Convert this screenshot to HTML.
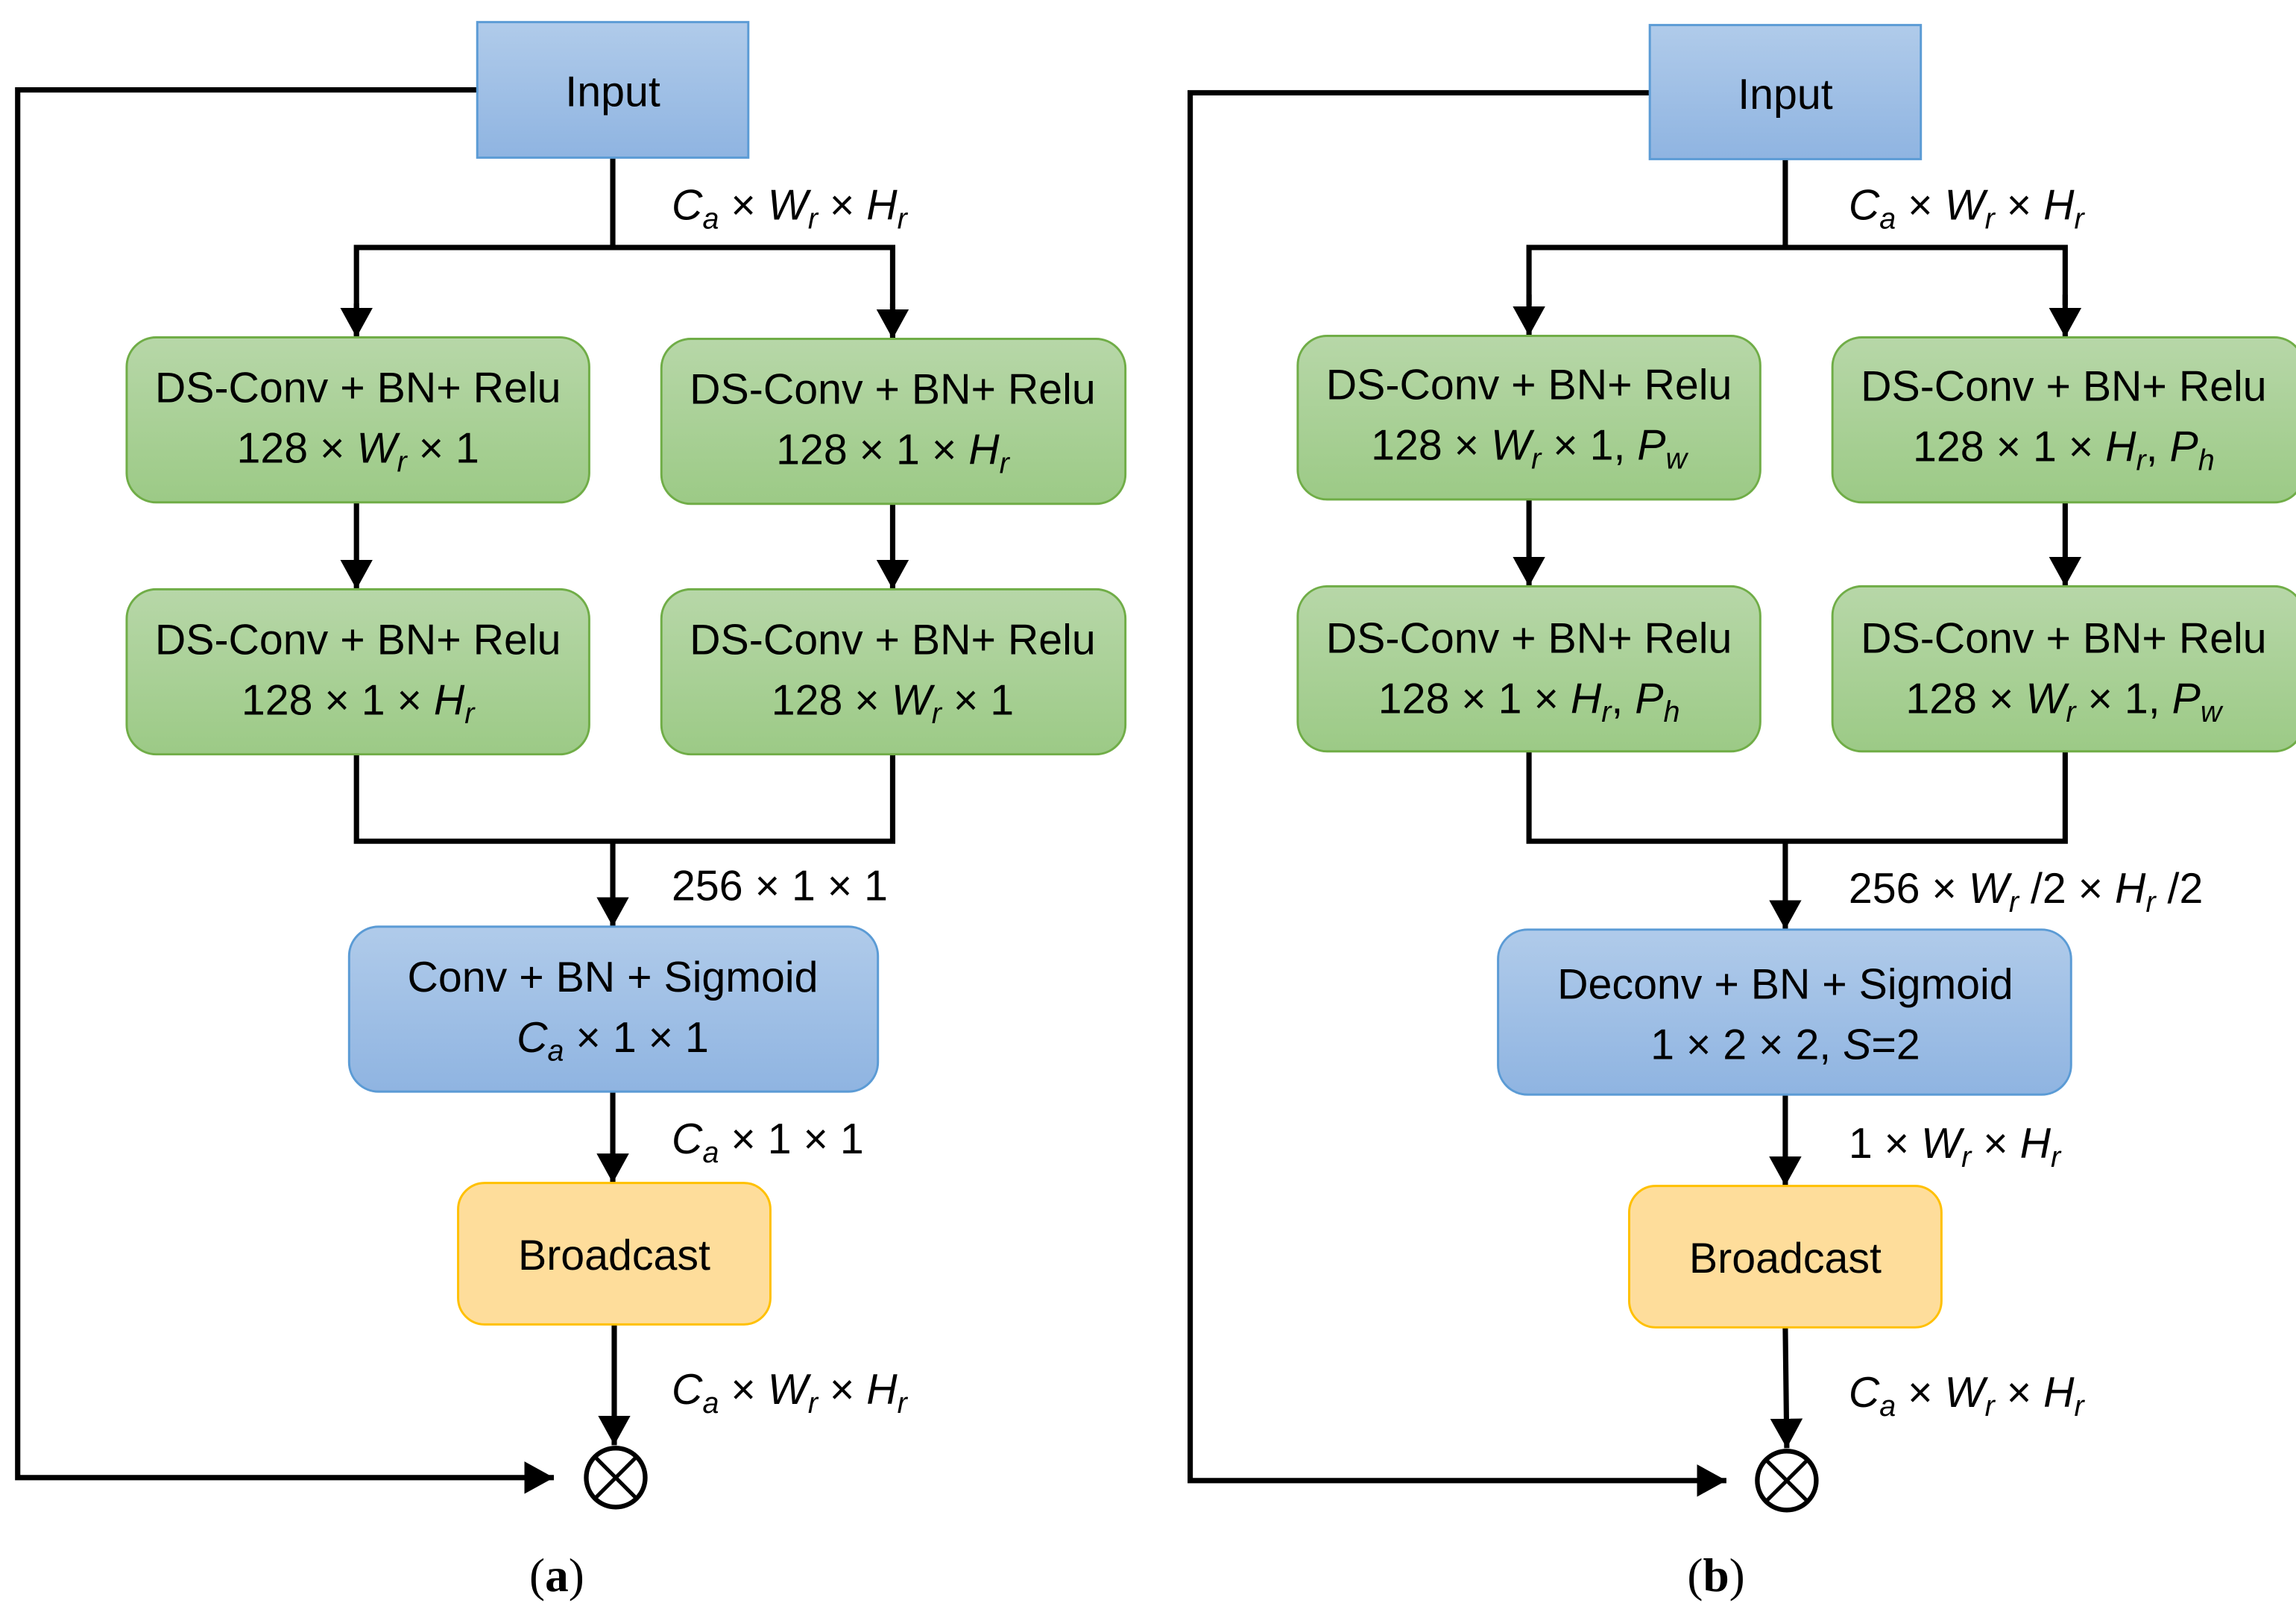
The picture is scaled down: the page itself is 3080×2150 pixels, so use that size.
<!DOCTYPE html>
<html><head><meta charset="utf-8"><style>
html,body{margin:0;padding:0;background:#fff;}
svg{display:block;}
text{font-family:"Liberation Sans Narrow","Liberation Sans",sans-serif;font-size:29px;fill:#000;}
.i{font-style:italic;}
.s{font-style:italic;font-size:20px;}
</style></head><body>
<svg width="3080" height="2150" viewBox="0 0 1558.7 1088.1" preserveAspectRatio="none" xmlns="http://www.w3.org/2000/svg">
<defs>
<linearGradient id="g" x1="0" y1="0" x2="0" y2="1"><stop offset="0" stop-color="#b7d7a8"/><stop offset="1" stop-color="#9cca86"/></linearGradient>
<linearGradient id="b" x1="0" y1="0" x2="0" y2="1"><stop offset="0" stop-color="#b0cbea"/><stop offset="1" stop-color="#8fb4e1"/></linearGradient>
<marker id="ar" viewBox="0 0 20 22" refX="20" refY="11" markerWidth="20" markerHeight="22" markerUnits="userSpaceOnUse" orient="auto"><path d="M0,0 L20,11 L0,22 z" fill="#000"/></marker>
</defs>
<g fill="none" stroke="#000" stroke-width="3.6">
<!-- (a) -->
<polyline points="324,61 12,61 12,1003 376,1003" marker-end="url(#ar)"/>
<line x1="416" y1="107" x2="416" y2="168"/>
<polyline points="242,228 242,168 606,168 606,228" />
<line x1="242" y1="206" x2="242" y2="229" marker-end="url(#ar)"/>
<line x1="606" y1="206" x2="606" y2="230" marker-end="url(#ar)"/>
<line x1="242" y1="341" x2="242" y2="400" marker-end="url(#ar)"/>
<line x1="606" y1="342" x2="606" y2="400" marker-end="url(#ar)"/>
<polyline points="242,512 242,571 606,571 606,512"/>
<line x1="416" y1="571" x2="416" y2="629" marker-end="url(#ar)"/>
<line x1="416" y1="741" x2="416" y2="803" marker-end="url(#ar)"/>
<line x1="417" y1="899" x2="417" y2="981" marker-end="url(#ar)"/>
<circle cx="418" cy="1003" r="20" stroke-width="3.2"/>
<line x1="404" y1="989" x2="432" y2="1017" stroke-width="2.6"/>
<line x1="432" y1="989" x2="404" y2="1017" stroke-width="2.6"/>
<!-- (b) -->
<polyline points="1120,63 808,63 808,1005 1172,1005" marker-end="url(#ar)"/>
<line x1="1212" y1="108" x2="1212" y2="168"/>
<polyline points="1038,207 1038,168 1402,168 1402,207"/>
<line x1="1038" y1="200" x2="1038" y2="228" marker-end="url(#ar)"/>
<line x1="1402" y1="200" x2="1402" y2="229" marker-end="url(#ar)"/>
<line x1="1038" y1="339" x2="1038" y2="398" marker-end="url(#ar)"/>
<line x1="1402" y1="341" x2="1402" y2="398" marker-end="url(#ar)"/>
<polyline points="1038,510 1038,571 1402,571 1402,510"/>
<line x1="1212" y1="571" x2="1212" y2="631" marker-end="url(#ar)"/>
<line x1="1212" y1="743" x2="1212" y2="805" marker-end="url(#ar)"/>
<line x1="1212" y1="901" x2="1213" y2="983" marker-end="url(#ar)"/>
<circle cx="1213" cy="1005" r="20" stroke-width="3.2"/>
<line x1="1199" y1="991" x2="1227" y2="1019" stroke-width="2.6"/>
<line x1="1227" y1="991" x2="1199" y2="1019" stroke-width="2.6"/>
</g>
<!-- boxes (a) -->
<rect x="324" y="15" width="184" height="92" fill="url(#b)" stroke="#5b9bd5" stroke-width="1.5"/>
<rect x="86" y="229" width="314" height="112" rx="20" fill="url(#g)" stroke="#70ad47" stroke-width="1.5"/>
<rect x="449" y="230" width="315" height="112" rx="20" fill="url(#g)" stroke="#70ad47" stroke-width="1.5"/>
<rect x="86" y="400" width="314" height="112" rx="20" fill="url(#g)" stroke="#70ad47" stroke-width="1.5"/>
<rect x="449" y="400" width="315" height="112" rx="20" fill="url(#g)" stroke="#70ad47" stroke-width="1.5"/>
<rect x="237" y="629" width="359" height="112" rx="20" fill="url(#b)" stroke="#5b9bd5" stroke-width="1.5"/>
<rect x="311" y="803" width="212" height="96" rx="18" fill="#fedd9b" stroke="#ffc000" stroke-width="1.5"/>
<!-- boxes (b) -->
<rect x="1120" y="17" width="184" height="91" fill="url(#b)" stroke="#5b9bd5" stroke-width="1.5"/>
<rect x="881" y="228" width="314" height="111" rx="20" fill="url(#g)" stroke="#70ad47" stroke-width="1.5"/>
<rect x="1244" y="229" width="320" height="112" rx="20" fill="url(#g)" stroke="#70ad47" stroke-width="1.5"/>
<rect x="881" y="398" width="314" height="112" rx="20" fill="url(#g)" stroke="#70ad47" stroke-width="1.5"/>
<rect x="1244" y="398" width="320" height="112" rx="20" fill="url(#g)" stroke="#70ad47" stroke-width="1.5"/>
<rect x="1017" y="631" width="389" height="112" rx="20" fill="url(#b)" stroke="#5b9bd5" stroke-width="1.5"/>
<rect x="1106" y="805" width="212" height="96" rx="18" fill="#fedd9b" stroke="#ffc000" stroke-width="1.5"/>

<!-- text (a) -->
<text x="416" y="72" text-anchor="middle">Input</text>
<text x="456" y="149"><tspan class="i">C</tspan><tspan class="s" dy="6">a</tspan><tspan dy="-6"> × </tspan><tspan class="i">W</tspan><tspan class="s" dy="6">r</tspan><tspan dy="-6"> × </tspan><tspan class="i">H</tspan><tspan class="s" dy="6">r</tspan></text>
<text x="243" y="273" text-anchor="middle">DS-Conv + BN+ Relu</text>
<text x="243" y="314" text-anchor="middle">128 × <tspan class="i">W</tspan><tspan class="s" dy="6">r</tspan><tspan dy="-6"> × 1</tspan></text>
<text x="606" y="274" text-anchor="middle">DS-Conv + BN+ Relu</text>
<text x="606" y="315" text-anchor="middle">128 × 1 × <tspan class="i">H</tspan><tspan class="s" dy="6">r</tspan></text>
<text x="243" y="444" text-anchor="middle">DS-Conv + BN+ Relu</text>
<text x="243" y="485" text-anchor="middle">128 × 1 × <tspan class="i">H</tspan><tspan class="s" dy="6">r</tspan></text>
<text x="606" y="444" text-anchor="middle">DS-Conv + BN+ Relu</text>
<text x="606" y="485" text-anchor="middle">128 × <tspan class="i">W</tspan><tspan class="s" dy="6">r</tspan><tspan dy="-6"> × 1</tspan></text>
<text x="456" y="611">256 × 1 × 1</text>
<text x="416" y="673" text-anchor="middle">Conv + BN + Sigmoid</text>
<text x="416" y="714" text-anchor="middle"><tspan class="i">C</tspan><tspan class="s" dy="6">a</tspan><tspan dy="-6"> × 1 × 1</tspan></text>
<text x="456" y="783"><tspan class="i">C</tspan><tspan class="s" dy="6">a</tspan><tspan dy="-6"> × 1 × 1</tspan></text>
<text x="417" y="862" text-anchor="middle">Broadcast</text>
<text x="456" y="953"><tspan class="i">C</tspan><tspan class="s" dy="6">a</tspan><tspan dy="-6"> × </tspan><tspan class="i">W</tspan><tspan class="s" dy="6">r</tspan><tspan dy="-6"> × </tspan><tspan class="i">H</tspan><tspan class="s" dy="6">r</tspan></text>
<text x="378" y="1080" text-anchor="middle" style="font-family:'Liberation Serif',serif;font-size:32px">(<tspan font-weight="bold">a</tspan>)</text>

<!-- text (b) -->
<text x="1212" y="74" text-anchor="middle">Input</text>
<text x="1255" y="149"><tspan class="i">C</tspan><tspan class="s" dy="6">a</tspan><tspan dy="-6"> × </tspan><tspan class="i">W</tspan><tspan class="s" dy="6">r</tspan><tspan dy="-6"> × </tspan><tspan class="i">H</tspan><tspan class="s" dy="6">r</tspan></text>
<text x="1038" y="271" text-anchor="middle">DS-Conv + BN+ Relu</text>
<text x="1038" y="312" text-anchor="middle">128 × <tspan class="i">W</tspan><tspan class="s" dy="6">r</tspan><tspan dy="-6"> × 1, </tspan><tspan class="i">P</tspan><tspan class="s" dy="6">w</tspan></text>
<text x="1401" y="272" text-anchor="middle">DS-Conv + BN+ Relu</text>
<text x="1401" y="313" text-anchor="middle">128 × 1 × <tspan class="i">H</tspan><tspan class="s" dy="6">r</tspan><tspan dy="-6">, </tspan><tspan class="i">P</tspan><tspan class="s" dy="6">h</tspan></text>
<text x="1038" y="443" text-anchor="middle">DS-Conv + BN+ Relu</text>
<text x="1038" y="484" text-anchor="middle">128 × 1 × <tspan class="i">H</tspan><tspan class="s" dy="6">r</tspan><tspan dy="-6">, </tspan><tspan class="i">P</tspan><tspan class="s" dy="6">h</tspan></text>
<text x="1401" y="443" text-anchor="middle">DS-Conv + BN+ Relu</text>
<text x="1401" y="484" text-anchor="middle">128 × <tspan class="i">W</tspan><tspan class="s" dy="6">r</tspan><tspan dy="-6"> × 1, </tspan><tspan class="i">P</tspan><tspan class="s" dy="6">w</tspan></text>
<text x="1255" y="613">256 × <tspan class="i">W</tspan><tspan class="s" dy="6">r</tspan><tspan dy="-6"> /2 × </tspan><tspan class="i">H</tspan><tspan class="s" dy="6">r</tspan><tspan dy="-6"> /2</tspan></text>
<text x="1212" y="678" text-anchor="middle">Deconv + BN + Sigmoid</text>
<text x="1212" y="719" text-anchor="middle">1 × 2 × 2, <tspan class="i">S</tspan>=2</text>
<text x="1255" y="786">1 × <tspan class="i">W</tspan><tspan class="s" dy="6">r</tspan><tspan dy="-6"> × </tspan><tspan class="i">H</tspan><tspan class="s" dy="6">r</tspan></text>
<text x="1212" y="864" text-anchor="middle">Broadcast</text>
<text x="1255" y="955"><tspan class="i">C</tspan><tspan class="s" dy="6">a</tspan><tspan dy="-6"> × </tspan><tspan class="i">W</tspan><tspan class="s" dy="6">r</tspan><tspan dy="-6"> × </tspan><tspan class="i">H</tspan><tspan class="s" dy="6">r</tspan></text>
<text x="1165" y="1080" text-anchor="middle" style="font-family:'Liberation Serif',serif;font-size:32px">(<tspan font-weight="bold">b</tspan>)</text>
</svg>
</body></html>
